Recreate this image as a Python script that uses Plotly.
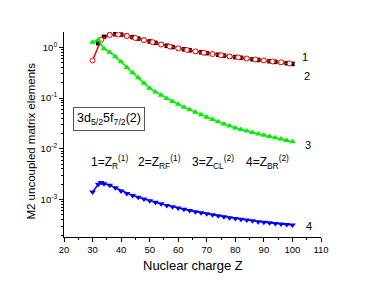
import plotly.graph_objects as go

# ---- data ----
z_black = [32, 34, 36, 38, 40, 42, 44, 46, 48, 50, 52, 54, 56, 58, 60, 62, 64, 66, 68,
           70, 72, 74, 76, 78, 80, 82, 84, 86, 88, 90, 92, 94, 96, 98, 100]
v_black = [1.20, 1.60, 1.76, 1.80, 1.77, 1.68, 1.58, 1.48, 1.39, 1.30, 1.22, 1.14, 1.07,
           1.01, 0.955, 0.91, 0.87, 0.83, 0.795, 0.765, 0.735, 0.71, 0.685, 0.66, 0.64,
           0.62, 0.60, 0.58, 0.562, 0.545, 0.53, 0.515, 0.50, 0.485, 0.47]

z_red = [30, 33, 36, 39, 42, 45, 48, 51, 54, 57, 60, 63, 66, 69, 72, 75, 78, 81, 84,
         87, 90, 93, 96, 99]
v_red = [0.55, 1.40, 1.74, 1.78, 1.66, 1.52, 1.38, 1.26, 1.13, 1.03, 0.95, 0.885, 0.83,
         0.78, 0.735, 0.695, 0.66, 0.63, 0.60, 0.575, 0.55, 0.525, 0.505, 0.48]

z_green = [30, 32, 34, 36, 38, 40, 42, 44, 46, 48, 50, 52, 54, 56, 58, 60, 62, 64, 66,
           68, 70, 72, 74, 76, 78, 80, 82, 84, 86, 88, 90, 92, 94, 96, 98, 100]
v_green = [1.25, 1.39, 0.93, 0.80, 0.65, 0.52, 0.40, 0.315, 0.25, 0.195, 0.155, 0.132,
           0.1135, 0.0977, 0.0851, 0.0750, 0.0661, 0.0589, 0.0525, 0.0468, 0.0417,
           0.0376, 0.0339, 0.0309, 0.0282, 0.0257, 0.0240, 0.0224, 0.0209, 0.0195,
           0.0184, 0.0174, 0.0164, 0.0155, 0.0146, 0.0138]

z_blue = [30, 32, 33, 34, 36, 38, 40, 42, 44, 46, 48, 50, 52, 54, 56, 58, 60, 62, 64,
          66, 68, 70, 72, 74, 76, 78, 80, 82, 84, 86, 88, 90, 92, 94, 96, 98, 100]
v_blue = [1.41e-3, 2.0e-3, 2.16e-3, 2.04e-3, 1.91e-3, 1.70e-3, 1.48e-3, 1.32e-3,
          1.20e-3, 1.11e-3, 1.02e-3, 9.44e-4, 8.81e-4, 8.22e-4, 7.67e-4, 7.24e-4,
          6.84e-4, 6.46e-4, 6.10e-4, 5.75e-4, 5.50e-4, 5.25e-4, 5.01e-4, 4.79e-4,
          4.57e-4, 4.37e-4, 4.22e-4, 4.07e-4, 3.94e-4, 3.80e-4, 3.67e-4, 3.55e-4,
          3.47e-4, 3.39e-4, 3.31e-4, 3.24e-4, 3.16e-4]

x_ticks = [20, 30, 40, 50, 60, 70, 80, 90, 100, 110]
y_ticks = [1, 0.1, 0.01, 0.001]
y_ticktext = ["10<sup>0</sup>", "10<sup>-1</sup>", "10<sup>-2</sup>", "10<sup>-3</sup>"]

curve_labels = ["1", "2", "3", "4"]
legend_texts = ["1=Z<sub>R</sub><sup>(1)</sup>", "2=Z<sub>RF</sub><sup>(1)</sup>",
                "3=Z<sub>CL</sub><sup>(2)</sup>", "4=Z<sub>BR</sub><sup>(2)</sup>"]
state_text = "3d<sub>5/2</sub>5f<sub>7/2</sub>(2)"
x_title = "Nuclear charge Z"
y_title = "M2 uncoupled matrix elements"

FONT = "Liberation Sans, Arial, sans-serif"

fig = go.Figure()
fig.add_trace(go.Scatter(x=z_black, y=v_black, mode="lines+markers",
                         line=dict(color="black", width=1.5),
                         marker=dict(symbol="square", size=4.5, color="black")))
fig.add_trace(go.Scatter(x=z_red, y=v_red, mode="lines+markers",
                         line=dict(color="red", width=1.5),
                         marker=dict(symbol="circle", size=5, color="white",
                                     line=dict(color="red", width=1))))
fig.add_trace(go.Scatter(x=z_green, y=v_green, mode="lines+markers",
                         line=dict(color="#00ee00", width=1.5),
                         marker=dict(symbol="triangle-up", size=6, color="#00ee00")))
fig.add_trace(go.Scatter(x=z_blue, y=v_blue, mode="lines+markers",
                         line=dict(color="#0000ff", width=1.5),
                         marker=dict(symbol="triangle-down", size=6, color="#0000ff")))

# curve number labels
lab_pos = [(102.6, -0.19), (103.2, -0.566), (103.6, -1.93), (104.2, -3.53)]
for t, (xx, yy) in zip(curve_labels, lab_pos):
    fig.add_annotation(x=xx, y=yy, xref="x", yref="y", text=t, showarrow=False,
                       xanchor="left", yanchor="middle",
                       font=dict(family=FONT, size=11, color="black"))

# legend-like text line
leg_x = [28.6, 45.2, 64.0, 83.2]
for t, xx in zip(legend_texts, leg_x):
    fig.add_annotation(x=xx, y=-2.26, xref="x", yref="y", text=t, showarrow=False,
                       xanchor="left", yanchor="middle",
                       font=dict(family=FONT, size=12, color="black"))

# boxed state label
fig.add_annotation(x=35.8, y=-1.414, xref="x", yref="y", text=state_text,
                   showarrow=False, xanchor="center", yanchor="middle",
                   bordercolor="#555555", borderwidth=1, borderpad=3,
                   font=dict(family=FONT, size=12.5, color="black"))

# axis titles
fig.add_annotation(x=-0.128, y=0.466, xref="paper", yref="paper", text=y_title,
                   textangle=-90, showarrow=False, xanchor="center", yanchor="middle",
                   font=dict(family=FONT, size=11.5, color="black"))
fig.add_annotation(x=0.5, y=-0.141, xref="paper", yref="paper", text=x_title,
                   showarrow=False, xanchor="center", yanchor="middle",
                   font=dict(family=FONT, size=13, color="black"))

fig.update_layout(
    width=374, height=286,
    margin=dict(l=64, r=53, t=32, b=49, autoexpand=False),
    paper_bgcolor="white", plot_bgcolor="white",
    showlegend=False,
    font=dict(family=FONT, color="black"),
)
fig.update_xaxes(
    range=[20, 110], tickmode="array", tickvals=x_ticks, automargin=False,
    showline=True, linecolor="black", linewidth=1, mirror=False,
    ticks="outside", ticklen=4, tickcolor="black", tickwidth=1,
    minor=dict(dtick=5, ticks="outside", ticklen=2, tickcolor="black", showgrid=False),
    showgrid=False, zeroline=False,
    tickfont=dict(family=FONT, size=9.5),
)
fig.update_yaxes(
    type="log", range=[-3.738, 0.30], automargin=False,
    tickmode="array", tickvals=y_ticks, ticktext=y_ticktext,
    showline=True, linecolor="black", linewidth=1, mirror=False,
    ticks="outside", ticklen=4, tickcolor="black", tickwidth=1,
    minor=dict(ticks="outside", ticklen=2, tickcolor="black", showgrid=False, dtick="D1"),
    showgrid=False, zeroline=False,
    tickfont=dict(family=FONT, size=9.5),
)

fig.write_html("out.html",
               config={"displayModeBar": False},
               post_script="document.body.style.margin='0';"
                           "document.body.style.overflow='hidden';")
